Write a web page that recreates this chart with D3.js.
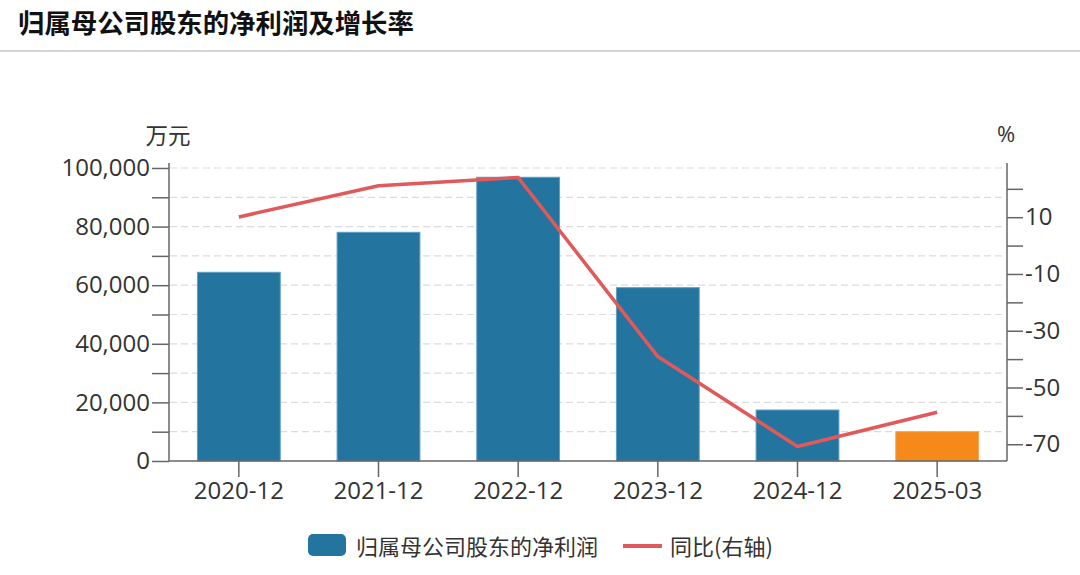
<!DOCTYPE html>
<html>
<head>
<meta charset="utf-8">
<script src="https://cdn.jsdelivr.net/npm/d3@7"></script>
<style>
  html, body { margin: 0; padding: 0; background: #fff; }
  svg { display: block; }
  text { font-family: "Open Sans", "Noto Sans CJK SC", sans-serif; fill: #333; }
</style>
</head>
<body>
<svg id="chart" width="1080" height="575"></svg>
<script>
const categories = ["2020-12", "2021-12", "2022-12", "2023-12", "2024-12", "2025-03"];
const profitValues = [64400, 78050, 96830, 59150, 17400, 10000];
const growthValues = [10.1, 21.1, 24.0, -39.1, -70.8, -58.7];
const leftTicks = [0, 10000, 20000, 30000, 40000, 50000, 60000, 70000, 80000, 90000, 100000];
const leftLabelTicks = [0, 20000, 40000, 60000, 80000, 100000];
const rightTicks = [-70, -60, -50, -40, -30, -20, -10, 0, 10, 20];
const rightLabelTicks = [-70, -50, -30, -10, 10];
const titleText = "归属母公司股东的净利润及增长率";
const leftUnit = "万元";
const rightUnit = "%";
const barLegend = "归属母公司股东的净利润";
const lineLegend = "同比(右轴)";

(function () {
const svg = d3.select("#chart");
const cjk = '"Noto Sans CJK SC", sans-serif';

// Title
svg.append("text").attr("x", 18).attr("y", 33)
  .style("font-family", cjk).style("font-weight", "bold").style("font-size", "26.4px")
  .style("fill", "#111").text(titleText);
svg.append("rect").attr("x", 0).attr("y", 50).attr("width", 1080).attr("height", 2).attr("fill", "#d4d4d4");

const pLeft = 169, pRight = 1007, pTop = 163, pBottom = 461;

const x = d3.scaleBand().domain(categories).range([pLeft, pRight]).padding(0);
const yL = d3.scaleLinear().domain([0, 101700]).range([pBottom, pTop]);
const yR = d3.scaleLinear().domain([-75.9, 29.1]).range([pBottom, pTop]);

// Grid
svg.append("g").selectAll("line").data(leftTicks.filter(d => d > 0)).join("line")
  .attr("x1", pLeft + 1).attr("x2", pRight - 1)
  .attr("y1", d => yL(d)).attr("y2", d => yL(d))
  .attr("stroke", "#dcdcdc").attr("stroke-width", 1.2).attr("stroke-dasharray", "7,4");

// Bars
svg.append("g").selectAll("rect").data(profitValues).join("rect")
  .attr("x", (d, i) => x(categories[i]) + x.bandwidth() * 0.2 + 0.5)
  .attr("width", x.bandwidth() * 0.6 - 1)
  .attr("y", d => yL(d))
  .attr("height", d => yL(0) - yL(d))
  .attr("fill", (d, i) => i === categories.length - 1 ? "#f5891a" : "#23749f")
  .attr("stroke", (d, i) => i === categories.length - 1 ? "#f8a650" : "#5d9ec6")
  .attr("stroke-width", 1);

// Left axis
const axL = d3.axisLeft(yL).tickValues(leftTicks).tickSize(17).tickPadding(2)
  .tickFormat(d => leftLabelTicks.includes(d) ? d3.format(",")(d) : "");
const gL = svg.append("g").attr("transform", `translate(${pLeft},0)`).call(axL);
gL.select(".domain").attr("d", `M0,${pTop}V${pBottom}`);

// Right axis
const axR = d3.axisRight(yR).tickValues(rightTicks).tickSize(16).tickPadding(2)
  .tickFormat(d => rightLabelTicks.includes(d) ? String(d) : "");
const gR = svg.append("g").attr("transform", `translate(${pRight},0)`).call(axR);
gR.select(".domain").attr("d", `M0,${pTop}V${pBottom}`);

// Bottom axis
const axB = d3.axisBottom(x).tickSize(16).tickPadding(5);
const gB = svg.append("g").attr("transform", `translate(0,${pBottom})`).call(axB);
gB.select(".domain").attr("d", `M${pLeft},0H${pRight}`);

[gL, gR, gB].forEach(g => {
  g.selectAll(".domain").attr("stroke", "#666").attr("stroke-width", 1.5).attr("fill", "none");
  g.selectAll(".tick line").attr("stroke", "#666").attr("stroke-width", 1.5);
  g.selectAll(".tick text").style("font-family", '"Open Sans", sans-serif')
    .style("font-size", "24px").style("fill", "#333");
});

// Line
const line = d3.line().x((d, i) => x(categories[i]) + x.bandwidth() / 2).y(d => yR(d));
svg.append("path").datum(growthValues).attr("d", line)
  .attr("fill", "none").attr("stroke", "#e0595b").attr("stroke-width", 3.5)
  .attr("stroke-linejoin", "round");

// Units
svg.append("text").attr("x", 168).attr("y", 134).attr("text-anchor", "middle")
  .attr("dominant-baseline", "central").style("font-family", cjk).style("font-size", "22.5px").text(leftUnit);
svg.append("text").attr("x", 1006).attr("y", 133).attr("text-anchor", "middle")
  .attr("dominant-baseline", "central").style("font-family", '"Open Sans", sans-serif').style("font-size", "22px").text(rightUnit);

// Legend
const lg = svg.append("g");
lg.append("rect").attr("x", 308).attr("y", 534).attr("width", 38).attr("height", 22).attr("rx", 5).attr("fill", "#23749f");
lg.append("text").attr("x", 356).attr("y", 545).attr("dominant-baseline", "central")
  .style("font-family", cjk).style("font-size", "22px").text(barLegend);
lg.append("line").attr("x1", 623).attr("x2", 662).attr("y1", 546).attr("y2", 546)
  .attr("stroke", "#e0595b").attr("stroke-width", 4);
lg.append("text").attr("x", 670).attr("y", 545).attr("dominant-baseline", "central")
  .style("font-family", cjk).style("font-size", "22px").text(lineLegend);
})();
</script>
</body>
</html>
